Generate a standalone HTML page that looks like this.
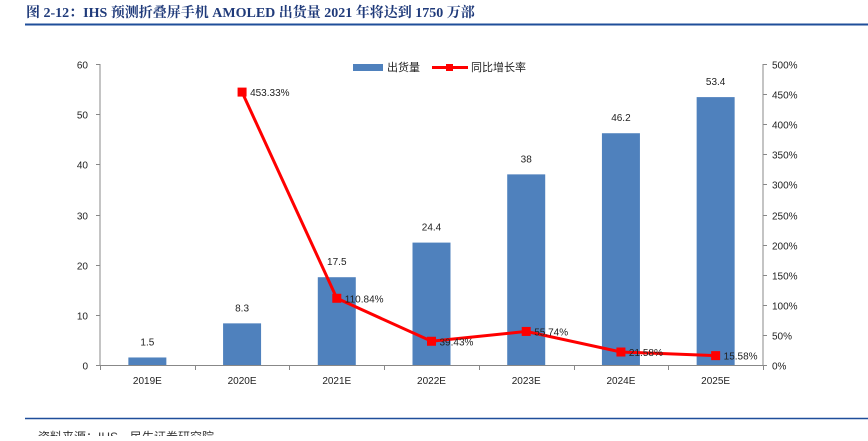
<!DOCTYPE html>
<html><head><meta charset="utf-8"><style>
body{margin:0;width:868px;height:436px;background:#fff;overflow:hidden;font-family:"Liberation Sans","Noto Sans CJK SC",sans-serif}
svg text{font-family:"Liberation Sans","Noto Sans CJK SC",sans-serif}
</style></head><body>
<svg width="868" height="436">
<text x="26" y="17" font-size="14" font-weight="bold" fill="#1f3a7a" style="font-family:'Liberation Serif','Noto Serif CJK SC',serif">图 2-12：IHS 预测折叠屏手机 AMOLED 出货量 2021 年将达到 1750 万部</text>
<line x1="25" y1="24.5" x2="868" y2="24.5" stroke="#1f4e9a" stroke-width="2"/>
<line x1="25" y1="418.5" x2="868" y2="418.5" stroke="#1f4e9a" stroke-width="1.5"/>
<text x="38" y="441" font-size="12" fill="#333">资料来源：IHS，民生证券研究院</text>
<g id="plot"></g>
<g>
<rect x="353" y="64" width="30" height="7" fill="#4f81bd"/>
<text x="387" y="71" font-size="11" fill="#222">出货量</text>
<line x1="432" y1="67.5" x2="468" y2="67.5" stroke="#ff0000" stroke-width="3"/>
<rect x="446" y="64" width="7" height="7" fill="#ff0000"/>
<text x="471" y="71" font-size="11" fill="#222">同比增长率</text>
</g>
</svg>
<script>
const categories=["2019E","2020E","2021E","2022E","2023E","2024E","2025E"];
const shipments=[1.5,8.3,17.5,24.4,38,46.2,53.4];
const growth=[null,453.33,110.84,39.43,55.74,21.58,15.58];
const leftTicks=[0,10,20,30,40,50,60];
const rightTicks=[0,50,100,150,200,250,300,350,400,450,500];
const NS="http://www.w3.org/2000/svg";
const g=document.getElementById('plot');
const X0=100,X1=763,Y0=365,Y1=64;
const band=(X1-X0)/categories.length;
const xc=i=>X0+band*(i+0.5);
const yL=v=>Y0-(v/60)*(Y0-Y1);
const yR=v=>Y0-(v/500)*(Y0-Y1);
function mk(t,a,txt){const e=document.createElementNS(NS,t);for(const k in a)e.setAttribute(k,a[k]);if(txt!=null)e.textContent=txt;g.appendChild(e);return e;}
let e;
e=mk('line',{x1:X0,y1:Y1,x2:X0,y2:Y0,stroke:'#888'});


e=mk('line',{x1:X1,y1:Y1,x2:X1,y2:Y0,stroke:'#888'});


e=mk('line',{x1:X0,y1:Y0+.5,x2:X1,y2:Y0+.5,stroke:'#888'});


leftTicks.forEach(v=>{const y=Math.round(yL(v))+.5;
mk('line',{x1:X0-4,y1:y,x2:X0,y2:y,stroke:'#888'});
e=mk('text',{x:X0-12,y:y+4,'font-size':10,'text-anchor':'end',fill:'#222'},String(v));

});
rightTicks.forEach(v=>{const y=Math.round(yR(v))+.5;
mk('line',{x1:X1,y1:y,x2:X1+4,y2:y,stroke:'#888'});
e=mk('text',{x:X1+9,y:y+4,'font-size':10,fill:'#222'},v+'%');

});
for(let i=0;i<=categories.length;i++){const x=Math.round(X0+band*i)+.5;mk('line',{x1:x,y1:Y0,x2:x,y2:Y0+5,stroke:'#888'});}
categories.forEach((c,i)=>{
e=mk('text',{x:xc(i),y:Y0+19,'font-size':10,'text-anchor':'middle',fill:'#222'},c);


const v=shipments[i];
e=mk('rect',{x:xc(i)-19,y:yL(v),width:38,height:Y0-yL(v),fill:'#4f81bd'});


e=mk('text',{x:xc(i),y:yL(v)-12,'font-size':10,'text-anchor':'middle',fill:'#222'},String(v));


});
let pts=[];growth.forEach((v,i)=>{if(v!=null)pts.push(xc(i)+','+yR(v));});
e=mk('polyline',{points:pts.join(' '),fill:'none',stroke:'#ff0000','stroke-width':3});


growth.forEach((v,i)=>{if(v==null)return;
e=mk('rect',{x:xc(i)-4.5,y:yR(v)-4.5,width:9,height:9,fill:'#ff0000'});


e=mk('text',{x:xc(i)+8,y:yR(v)+4,'font-size':10,fill:'#222'},v.toFixed(2)+'%');

});
</script>
</body></html>
